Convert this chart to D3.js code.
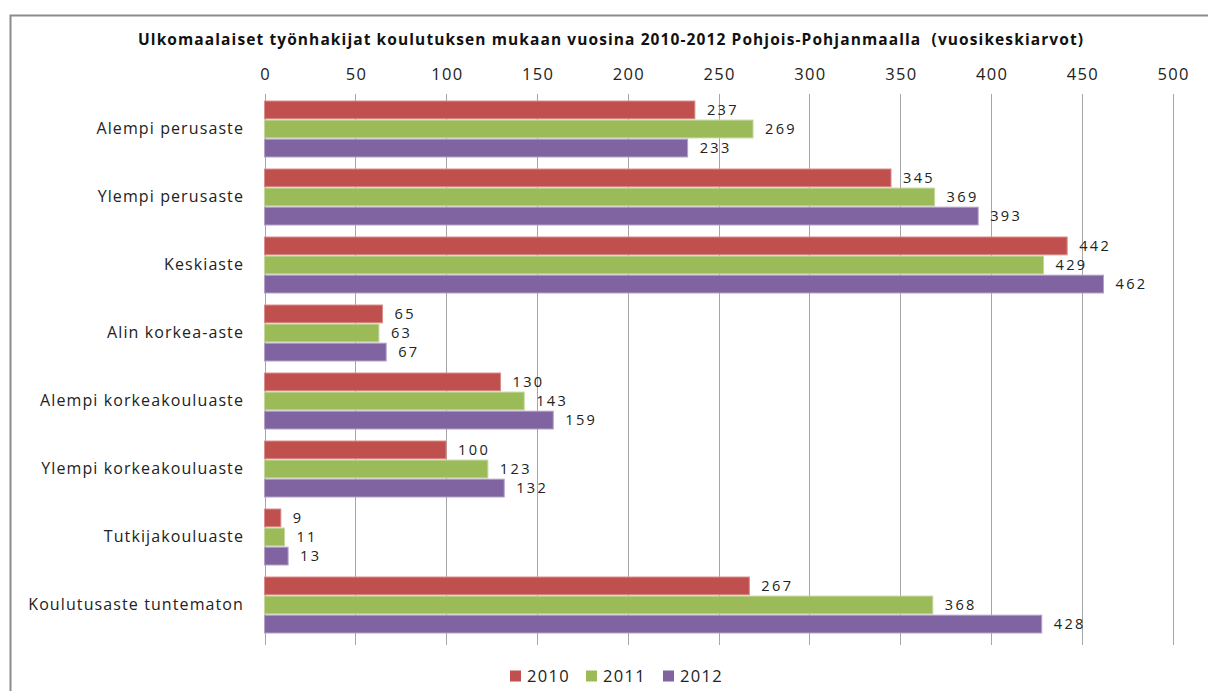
<!DOCTYPE html>
<html><head><meta charset="utf-8">
<script src="https://cdn.jsdelivr.net/npm/d3@7"></script>
<style>body{margin:0;background:#fff;} svg{display:block;} text{font-family:"Open Sans","Liberation Sans",sans-serif;}</style>
</head><body>
<svg id="c" width="1208" height="691"></svg>
<script>
const categories = ["Alempi perusaste","Ylempi perusaste","Keskiaste","Alin korkea-aste","Alempi korkeakouluaste","Ylempi korkeakouluaste","Tutkijakouluaste","Koulutusaste tuntematon"];
const years = ["2010","2011","2012"];
const values2010 = [237,345,442,65,130,100,9,267];
const values2011 = [269,369,429,63,143,123,11,368];
const values2012 = [233,393,462,67,159,132,13,428];
const xTicks = [0,50,100,150,200,250,300,350,400,450,500];
const title = "Ulkomaalaiset työnhakijat koulutuksen mukaan vuosina 2010-2012 Pohjois-Pohjanmaalla  (vuosikeskiarvot)";
const colors = ["#C0504D","#9BBB59","#8064A2"];
const strokes = ["#d98f8d","#c3d69b","#b3a2c7"];

const series = [values2010, values2011, values2012];
const svg = d3.select("#c");

// frame
svg.append("path").attr("d","M10.5,700 V15.5 H1220").attr("fill","none").attr("stroke","#8c8c8c").attr("stroke-width",2);

svg.append("text").attr("x",138).attr("y",45)
  .attr("font-size",15.5).attr("font-weight","bold").attr("fill","#111")
  .attr("textLength",945).attr("lengthAdjust","spacing").style("white-space","pre").text(title);

const x = d3.scaleLinear().domain([0,500]).range([264.5,1172.5]);
const y = d3.scaleBand().domain(categories).range([95,639]).paddingInner(12/68).paddingOuter(6/68);
const yInner = d3.scaleBand().domain(years).range([0,y.bandwidth()]).paddingInner(4/60);

// gridlines
svg.append("g").selectAll("line").data(xTicks).join("line")
  .attr("x1",d=>Math.round(x(d))+0.5).attr("x2",d=>Math.round(x(d))+0.5)
  .attr("y1",94).attr("y2",645).attr("stroke","#a6a6a6").attr("stroke-width",1);

const numStyle = (sel, fs=16.5, ls=1.3) => sel.attr("font-size",fs).attr("fill","#222").style("letter-spacing",ls+"px")
  .attr("font-family","'Open Sans','Liberation Sans',sans-serif");

// top axis labels
const ax = svg.append("g").attr("transform","translate(0,80)")
  .call(d3.axisTop(x).tickValues(xTicks).tickSize(0).tickPadding(0));
ax.select(".domain").remove();
ax.selectAll("text").call(numStyle).attr("dx","0.65px");

// category axis
const ay = svg.append("g").attr("transform","translate(244,0)")
  .call(d3.axisLeft(y).tickSize(0).tickPadding(0));
ay.select(".domain").remove();
ay.selectAll("text").attr("font-size",16).attr("fill","#222").style("letter-spacing","1.1px")
  .attr("font-family","'Open Sans','Liberation Sans',sans-serif");

// bars
years.forEach((yr,i)=>{
  const g = svg.append("g");
  g.selectAll("rect").data(series[i]).join("rect")
    .attr("x",x(0)).attr("y",(d,j)=>y(categories[j])+yInner(yr))
    .attr("width",d=>x(d)-x(0)).attr("height",yInner.bandwidth())
    .attr("fill",colors[i]).attr("stroke",strokes[i]).attr("stroke-width",1);
  g.selectAll("text").data(series[i]).join("text")
    .attr("x",d=>x(d)+12).attr("y",(d,j)=>y(categories[j])+yInner(yr)+yInner.bandwidth()/2)
    .attr("dy","0.36em").call(numStyle,14.6,2.3).text(d=>d);
});

// legend
const legX = [510,586,663];
const lg = svg.append("g");
years.forEach((yr,i)=>{
  lg.append("rect").attr("x",legX[i]).attr("y",670.5).attr("width",11).attr("height",11).attr("fill",colors[i]);
  lg.append("text").attr("x",legX[i]+17).attr("y",676).attr("dy","0.35em").call(numStyle).text(yr);
});
</script>
</body></html>
